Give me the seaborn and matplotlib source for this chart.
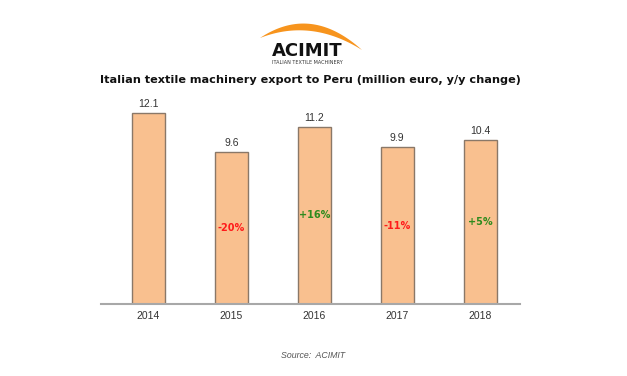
import numpy as np
import matplotlib
matplotlib.use("Agg")
import matplotlib.pyplot as plt
import seaborn as sns
import pandas as pd
from matplotlib.patches import Polygon

# Data
years = ["2014", "2015", "2016", "2017", "2018"]
export_values = [12.1, 9.6, 11.2, 9.9, 10.4]
yoy_labels = ["", "-20%", "+16%", "-11%", "+5%"]

df = pd.DataFrame({"year": years, "value": export_values})

sns.set_theme(style="white")
plt.rcParams["font.family"] = ["Liberation Sans", "DejaVu Sans"]

fig = plt.figure(figsize=(6.27, 3.76), dpi=100)
ax = fig.add_axes([101 / 627, 1 - 304 / 376, 419 / 627, 204 / 376])

sns.barplot(data=df, x="year", y="value", color="#F9C08F", width=0.4,
            edgecolor="#8A7868", linewidth=1.0, saturation=1, ax=ax)

ax.set_xlim(-0.57, 4.48)
ax.set_ylim(0, 12.9)
ax.set_xlabel("")
ax.set_ylabel("")
ax.set_yticks([])
for side in ["top", "right", "left"]:
    ax.spines[side].set_visible(False)
ax.spines["bottom"].set_color("#A8A8A8")
ax.spines["bottom"].set_linewidth(1.5)
ax.tick_params(axis="x", length=0, pad=5, labelsize=7.5, labelcolor="#333333")

# value labels above bars, y/y change inside bars
for i, (v, lab) in enumerate(zip(export_values, yoy_labels)):
    ax.text(i, v + 0.25, f"{v:.1f}", ha="center", va="bottom",
            fontsize=7.5, color="#333333")
    if lab:
        col = "#FF1A1A" if lab.startswith("-") else "#2E8B1E"
        ax.text(i, v / 2, lab, ha="center", va="center", fontsize=7,
                fontweight="bold", color=col, family=["DejaVu Sans"])

# overlay axes in pixel coords for logo, title and source
ov = fig.add_axes([0, 0, 1, 1], zorder=-1)
ov.set_xlim(0, 627)
ov.set_ylim(376, 0)
ov.axis("off")

# logo crescent
t = np.linspace(0, 1, 60)
x0, x1 = 260, 362
outer_y = 38 + (50 - 38) * t - 4 * 20 * t * (1 - t)
inner_y = 38 + (50 - 38) * t - 4 * 13 * t * (1 - t)
xs = x0 + (x1 - x0) * t
pts = np.vstack([np.column_stack([xs, outer_y]),
                 np.column_stack([xs[::-1], inner_y[::-1]])])
ov.add_patch(Polygon(pts, closed=True, color="#F7941D", lw=0))
ov.text(307, 51, "ACIMIT", ha="center", va="center", fontsize=13,
        fontweight="bold", color="#111111", family=["DejaVu Sans"])
ov.text(307, 63, "ITALIAN TEXTILE MACHINERY", ha="center", va="center",
        fontsize=3.5, color="#333333", family=["DejaVu Sans"])

ov.text(310, 80, "Italian textile machinery export to Peru (million euro, y/y change)",
        ha="center", va="center", fontsize=8.1, fontweight="bold",
        color="#111111", family=["DejaVu Sans"])

ov.text(313, 356, "Source:  ACIMIT", ha="center", va="center", fontsize=6.3,
        style="italic", color="#555555")

fig.savefig("out.png", dpi=100)
